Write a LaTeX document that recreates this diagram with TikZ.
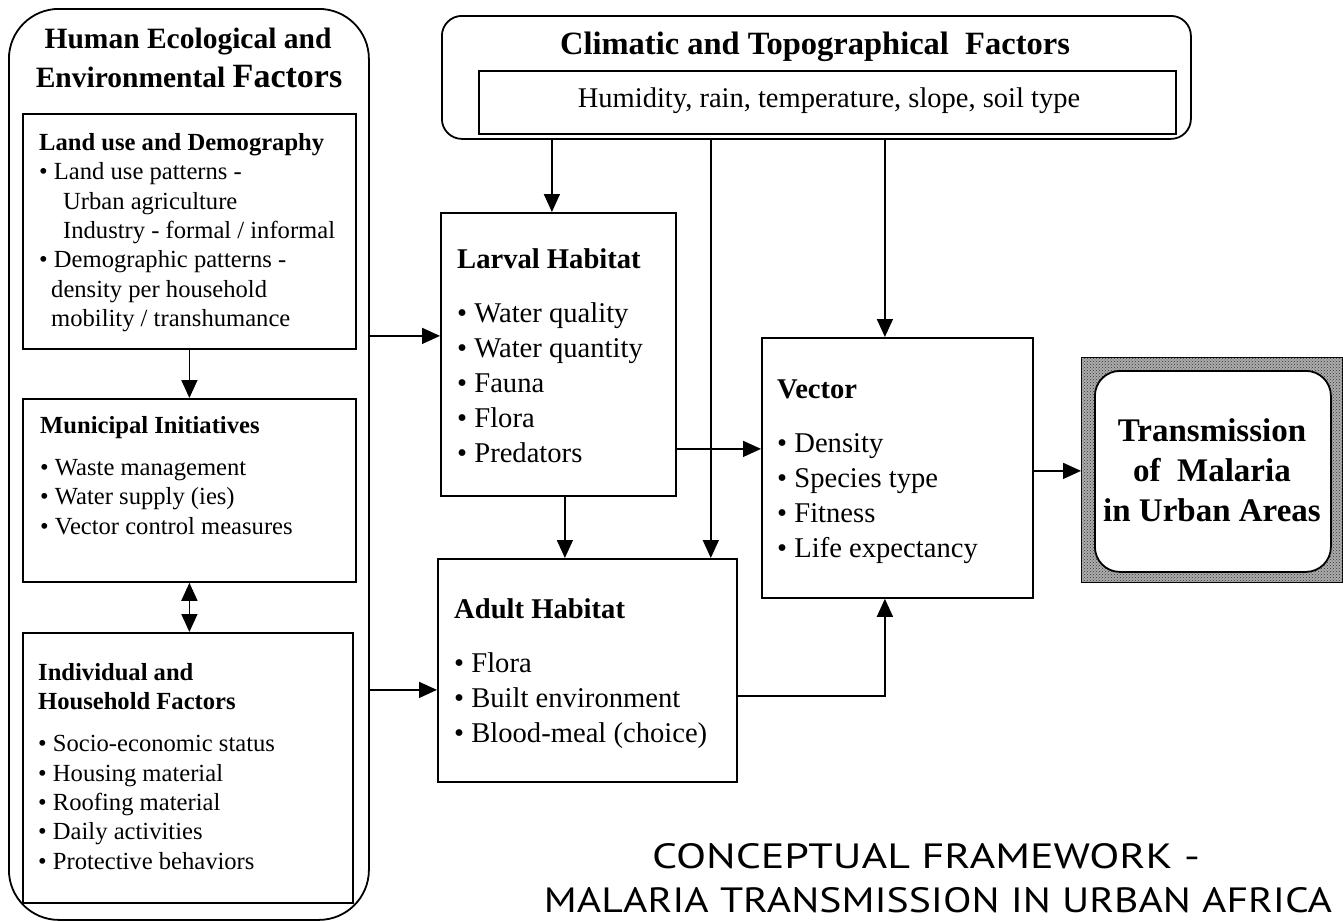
\documentclass[tikz,border=0pt]{standalone}
\usepackage{fontspec}
\setmainfont{Liberation Serif}
\newfontfamily\ptsans{PT Sans}
\usetikzlibrary{arrows.meta,patterns,calc}
\newcommand\fsL{\fontsize{24.6}{29.4}\selectfont}
\newcommand\fsM{\fontsize{28.6}{35}\selectfont}
\newcommand\stL{\rule{0pt}{18pt}}
\newcommand\stM{\rule{0pt}{21pt}}
\begin{document}
\begin{tikzpicture}[x=1pt,y=-1pt,
  box/.style={draw,line width=1.8pt,inner sep=0pt,fill=white,anchor=north west},
  txt/.style={anchor=north west,inner sep=0pt,align=left},
  arr/.style={line width=1.6pt,-{Triangle[length=18pt,width=16pt]}},
  darr/.style={line width=1.6pt,{Triangle[length=18pt,width=16pt]}-{Triangle[length=18pt,width=16pt]}}]
\useasboundingbox (0,0) rectangle (1344,921);
% boxes
\node[box,rounded corners=50pt,minimum width=360pt,minimum height=911pt] (human) at (8,8) {};
\node[box,minimum width=333pt,minimum height=235pt] (landuse) at (22,113) {};
\node[box,minimum width=333pt,minimum height=183pt] (municipal) at (22,398) {};
\node[box,minimum width=330pt,minimum height=270pt] (individual) at (22,632) {};
\node[box,rounded corners=20pt,minimum width=749pt,minimum height=123pt] (climatic) at (441,15) {};
\node[box,minimum width=697pt,minimum height=63pt] (climlist) at (478,70) {};
\node[box,minimum width=235pt,minimum height=283pt] (larval) at (440,212) {};
\node[box,minimum width=299pt,minimum height=223pt] (adult) at (437,558) {};
\node[box,minimum width=271pt,minimum height=260pt] (vector) at (761,337) {};
\node[draw,line width=1.2pt,anchor=north west,inner sep=0pt,minimum width=261pt,minimum height=225pt,
  fill=gray!65,postaction={pattern=crosshatch dots,pattern color=black!80}] (shade) at (1081,357) {};
\node[box,rounded corners=25pt,minimum width=236pt,minimum height=201pt] (trans) at (1094,370) {};
% texts
\node[anchor=base] (htitle1) at (188,48) {\fontsize{29.5}{30}\selectfont\bfseries Human Ecological and};
\node[anchor=base] (htitle2) at (189,87) {\fontsize{29.5}{30}\selectfont\bfseries Environmental {\fontsize{34}{34}\selectfont Factors}};
\node[txt,font=\fsL] (landtxt) at (39,132) {\stL\textbf{Land use and Demography}\\
  • Land use patterns -\\
  \hspace*{24pt}Urban agriculture\\
  \hspace*{24pt}Industry -\ formal / informal\\
  • Demographic patterns -\\
  \hspace*{12pt}density per household\\
  \hspace*{12pt}mobility / transhumance};
\node[txt,font=\fsL] (munitxt) at (40,415) {\stL\textbf{Municipal Initiatives}\\[12.6pt]
  • Waste management\\
  • Water supply (ies)\\
  • Vector control measures};
\node[txt,font=\fsL] (indtxt) at (38,662) {\stL\textbf{Individual and}\\
  \textbf{Household Factors}\\[12.6pt]
  • Socio-economic status\\
  • Housing material\\
  • Roofing material\\
  • Daily activities\\
  • Protective behaviors};
\node[anchor=base] (ctitle) at (815,54) {\fontsize{32.5}{33}\selectfont\bfseries Climatic and Topographical\ \ Factors};
\node[anchor=base] (ctext) at (829,107) {\fontsize{28.5}{29}\selectfont Humidity, rain, temperature, slope, soil type};
\node[txt,font=\fsM] (larvaltxt) at (457,247) {\stM\textbf{Larval Habitat}\\[19pt]
  • Water quality\\
  • Water quantity\\
  • Fauna\\
  • Flora\\
  • Predators};
\node[txt,font=\fsM] (adulttxt) at (454,597) {\stM\textbf{Adult Habitat}\\[19pt]
  • Flora\\
  • Built environment\\
  • Blood-meal (choice)};
\node[txt,font=\fsM] (vectortxt) at (777,377) {\stM\textbf{Vector}\\[19pt]
  • Density\\
  • Species type\\
  • Fitness\\
  • Life expectancy};
\node[anchor=north,inner sep=0pt,align=center,font=\fontsize{33}{40}\selectfont\bfseries] (transtxt) at (1212,416)
  {\rule{0pt}{25pt}Transmission\\ of\ \ Malaria\\ in Urban Areas};
\node[anchor=base,inner sep=0pt] (ttl1) at (926,868) {\resizebox{548pt}{25pt}{\ptsans CONCEPTUAL FRAMEWORK -}};
\node[anchor=base,inner sep=0pt] (ttl2) at (938,912) {\resizebox{788pt}{25pt}{\ptsans MALARIA TRANSMISSION IN URBAN AFRICA}};
% connectors
\draw[arr] (landuse.south) -- (municipal.north);
\draw[darr] (municipal.south) -- (municipal.south |- individual.north);
\coordinate (pL) at ([yshift=18.5pt]larval.west);
\draw[arr] (human.east |- pL) -- (pL);
\coordinate (pA) at ([yshift=-19.5pt]adult.west);
\draw[arr] (human.east |- pA) -- (pA);
\coordinate (cL) at ([xshift=-6.5pt]larval.north);
\draw[arr] (climatic.south -| cL) -- (cL);
\coordinate (cA) at ([xshift=-27pt]adult.north east);
\draw[arr] (climatic.south -| cA) -- (cA);
\coordinate (cV) at ([xshift=-12.5pt]vector.north);
\draw[arr] (climatic.south -| cV) -- (cV);
\coordinate (lA) at ([xshift=6.5pt]larval.south);
\draw[arr] (lA) -- (adult.north -| lA);
\coordinate (lV) at ([yshift=-94.5pt]larval.east);
\draw[arr] (lV) -- (vector.west |- lV);
\coordinate (aV) at ([yshift=-25.5pt]adult.east);
\coordinate (vB) at ([xshift=-12.5pt]vector.south);
\draw[arr] (aV) -| (vB);
\coordinate (vT) at ([yshift=-3pt]vector.east);
\draw[arr] (vT) -- (shade.west |- vT);
\end{tikzpicture}
\end{document}
